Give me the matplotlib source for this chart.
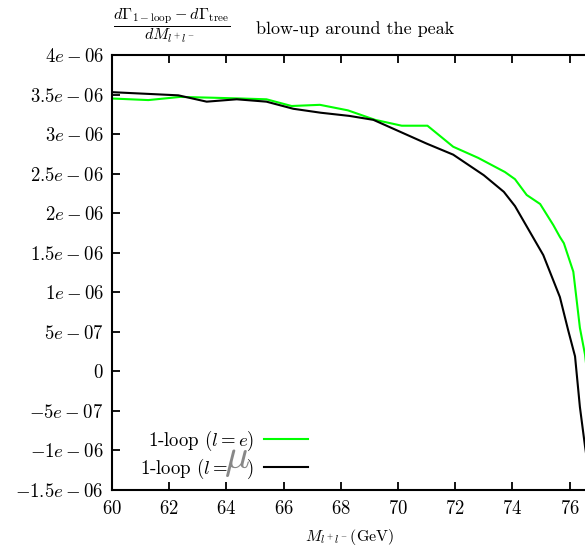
import matplotlib
matplotlib.use("Agg")
import matplotlib.pyplot as plt

plt.rcParams['mathtext.fontset'] = 'cm'
plt.rcParams['font.family'] = 'cmr10'
plt.rcParams['axes.formatter.use_mathtext'] = True

# 1-loop, l = e  (units of 1e-06)
mass_e = [60.0, 61.27, 62.38, 63.5, 64.5, 65.4, 66.28, 67.27, 68.25, 69.2,
          70.13, 71.03, 71.93, 72.8, 73.74, 74.09, 74.5, 74.97, 75.43, 75.66,
          75.8, 76.13, 76.36, 76.54, 76.8]
dgam_e = [3.45, 3.43, 3.47, 3.46, 3.45, 3.44, 3.355, 3.37, 3.30, 3.18,
          3.106, 3.106, 2.84, 2.70, 2.52, 2.43, 2.23, 2.116, 1.85, 1.70,
          1.62, 1.26, 0.55, 0.21, -0.6]

# 1-loop, l = mu
mass_mu = [60.0, 62.32, 63.31, 64.36, 65.4, 66.34, 67.3, 68.3, 69.14, 70.07,
           71.0, 71.93, 73.0, 73.7, 74.09, 75.08, 75.66, 75.95, 76.19, 76.36,
           76.54, 76.8]
dgam_mu = [3.53, 3.49, 3.41, 3.44, 3.41, 3.32, 3.27, 3.23, 3.18, 3.03,
           2.88, 2.74, 2.48, 2.27, 2.09, 1.47, 0.94, 0.52, 0.19, -0.45,
           -0.95, -1.6]

xticks = [60, 62, 64, 66, 68, 70, 72, 74, 76, 78, 80]
yticks = [4, 3.5, 3, 2.5, 2, 1.5, 1, 0.5, 0, -0.5, -1, -1.5]
ylabels = ['4e-06', '3.5e-06', '3e-06', '2.5e-06', '2e-06', '1.5e-06', '1e-06',
           '5e-07', '0', '-5e-07', '-1e-06', '-1.5e-06']

fig = plt.figure(figsize=(5.85, 5.52), dpi=100)
ax = fig.add_axes([112 / 585, 62 / 552, 572 / 585, 435 / 552])

ax.plot(mass_e, dgam_e, color='#00ff00', lw=1.5, label=r'1-loop ($l=e$)')
ax.plot(mass_mu, dgam_mu, color='black', lw=1.5, label=r'1-loop ($l=\;\;\;\,$)')

ax.set_xlim(60, 80)
ax.set_ylim(-1.5, 4)
ax.set_xticks(xticks)
ax.set_xticklabels(['$%d$' % t for t in xticks])
ax.set_yticks(yticks)
ax.set_yticklabels(['$%s$' % s for s in ylabels])
ax.tick_params(direction='in', length=6, width=1.3, labelsize=13.5, top=True, right=True)
ax.tick_params(axis='x', pad=7)
ax.tick_params(axis='y', pad=6)
for s in ax.spines.values():
    s.set_linewidth(1.5)

leg = ax.legend(loc='lower left', bbox_to_anchor=(0.02, -0.018), markerfirst=False,
                frameon=False, fontsize=13.5, handlelength=2.35, labelspacing=0.2,
                handletextpad=0.5)

# stray grey mu drawn over the second legend entry
fig.text(237 / 585, 1 - 460 / 552, r'$\mu$', color='#888888', fontsize=30,
         ha='center', va='center')

fig.text(172 / 585, 1 - 26 / 552,
         r'$\dfrac{d\Gamma_{1-\mathrm{loop}} - d\Gamma_{\mathrm{tree}}}{dM_{l^+l^-}}$',
         fontsize=11.5, ha='center', va='center')
fig.text(256 / 585, 1 - 29 / 552, 'blow-up around the peak', fontsize=13,
         ha='left', va='center')
fig.text(350 / 585, 1 - 537 / 552, r'$M_{l^+l^-}$(GeV)', fontsize=11.5,
         ha='center', va='center')

fig.savefig('out.png', dpi=100)
